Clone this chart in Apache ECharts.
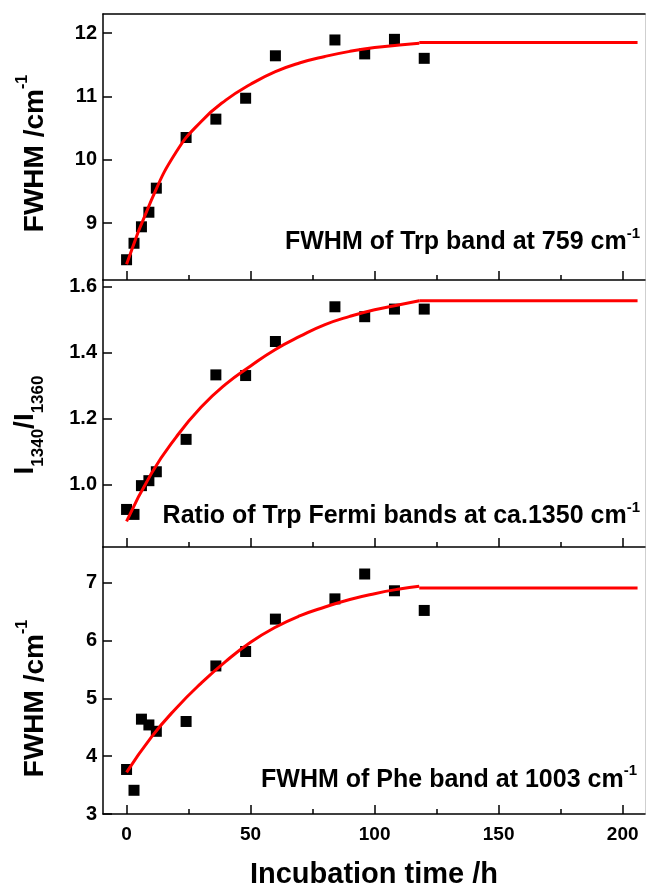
<!DOCTYPE html>
<html>
<head>
<meta charset="utf-8">
<script src="https://cdn.jsdelivr.net/npm/echarts@6/dist/echarts.min.js"></script>
<style>
html,body{margin:0;padding:0;background:#fff;}
#chart{width:647px;height:887px;}
</style>
</head>
<body>
<div id="chart"></div>
<script>
/*
* 数据
*/
var times = [0, 3, 6, 9, 12, 24, 36, 48, 60, 84, 96, 108, 120];
var trpFwhm = [8.42, 8.68, 8.94, 9.17, 9.55, 10.35, 10.64, 10.97, 11.64, 11.89, 11.67, 11.90, 11.60];
var fermiRatio = [0.926, 0.911, 0.998, 1.013, 1.040, 1.138, 1.333, 1.331, 1.434, 1.539, 1.509, 1.532, 1.532];
var pheFwhm = [3.77, 3.41, 4.64, 4.54, 4.43, 4.60, 5.56, 5.81, 6.37, 6.72, 7.15, 6.86, 6.52];

// red fit curves
var fitTimes = [0, 10, 20, 30, 40, 50, 60, 70, 80, 90, 100, 110, 118];
var trpFit = [8.35, 9.36, 10.12, 10.6, 10.94, 11.19, 11.39, 11.53, 11.63, 11.71, 11.77, 11.81, 11.84];
var ratioFit = [0.89, 1.035, 1.145, 1.235, 1.305, 1.36, 1.41, 1.45, 1.485, 1.51, 1.53, 1.545, 1.557];
var pheFit = [3.72, 4.33, 4.83, 5.26, 5.64, 5.97, 6.23, 6.43, 6.58, 6.71, 6.81, 6.89, 6.94];
// flat part of the fits
var plateauTimes = [118, 206];
var trpPlateau = [11.85, 11.85];
var ratioPlateau = [1.557, 1.557];
var phePlateau = [6.91, 6.91];

// ticks
var xTicks = [0, 50, 100, 150, 200];
var xMinorTicks = [25, 75, 125, 175];
var trpTicks = [9, 10, 11, 12];
var ratioTicks = [1.0, 1.2, 1.4, 1.6];
var pheTicks = [3, 4, 5, 6, 7];

var FONT = '"Liberation Sans", Arial, sans-serif';

function pairs(xs, ys){
	var out = [];
	for(var i = 0; i < xs.length; i++){
		out.push([xs[i], ys[i]]);
	}
	return out;
}

var panels = [
	{top: 14, height: 266, min: 8.1, max: 12.3, ticks: trpTicks, dec: 0, pts: trpFwhm, fit: trpFit, flat: trpPlateau},
	{top: 280, height: 267, min: 0.8124, max: 1.62, ticks: ratioTicks, dec: 1, pts: fermiRatio, fit: ratioFit, flat: ratioPlateau},
	{top: 547, height: 267, min: 3, max: 7.617, ticks: pheTicks, dec: 0, pts: pheFwhm, fit: pheFit, flat: phePlateau}
];

var grids = [], xAxes = [], yAxes = [], series = [];
var black = {color: '#000', width: 1.5};

panels.forEach(function(p, i){
	grids.push({left: 103, width: 542, top: p.top, height: p.height});
	// main x axis: frame line + major ticks
	xAxes.push({
		type: 'value', gridIndex: i, min: -9.5, max: 209, position: 'bottom',
		axisLine: {show: true, onZero: false, lineStyle: black},
		axisTick: {show: true, inside: true, length: 9, customValues: xTicks, lineStyle: black},
		axisLabel: {show: i === 2, customValues: xTicks, margin: 11,
			color: '#000', fontSize: 19, fontWeight: 'bold', fontFamily: FONT},
		splitLine: {show: false}
	});
	// minor x ticks
	xAxes.push({
		type: 'value', gridIndex: i, min: -9.5, max: 209, position: 'bottom',
		axisLine: {show: false, onZero: false},
		axisTick: {show: true, inside: true, length: 5, customValues: xMinorTicks, lineStyle: black},
		axisLabel: {show: false},
		splitLine: {show: false}
	});
	if(i === 0){
		xAxes.push({
			type: 'value', gridIndex: i, min: -9.5, max: 209, position: 'top',
			axisLine: {show: true, onZero: false, lineStyle: black},
			axisTick: {show: false}, axisLabel: {show: false}, splitLine: {show: false}
		});
	}
	yAxes.push({
		type: 'value', gridIndex: i, min: p.min, max: p.max, position: 'left',
		axisLine: {show: true, onZero: false, lineStyle: black},
		axisTick: {show: true, inside: true, length: 9, customValues: p.ticks, lineStyle: black},
		axisLabel: {customValues: p.ticks, margin: 6, color: '#000', fontSize: 20,
			fontWeight: 'bold', fontFamily: FONT,
			formatter: (function(d){ return function(v){ return Number(v).toFixed(d); }; })(p.dec)},
		splitLine: {show: false}
	});
	yAxes.push({
		type: 'value', gridIndex: i, min: p.min, max: p.max, position: 'right',
		axisLine: {show: true, onZero: false, lineStyle: {color: '#cfcfcf', width: 1}},
		axisTick: {show: false}, axisLabel: {show: false}, splitLine: {show: false}
	});
});

// axis index of the main x axis of each panel
var xMain = [0, 3, 5];
panels.forEach(function(p, i){
	series.push({
		type: 'scatter', xAxisIndex: xMain[i], yAxisIndex: i * 2,
		data: pairs(times, p.pts),
		symbol: 'rect', symbolSize: 11,
		itemStyle: {color: '#000', opacity: 1}
	});
	series.push({
		type: 'line', xAxisIndex: xMain[i], yAxisIndex: i * 2,
		data: pairs(fitTimes, p.fit),
		showSymbol: false, smooth: true,
		lineStyle: {color: '#ff0000', width: 3}
	});
	series.push({
		type: 'line', xAxisIndex: xMain[i], yAxisIndex: i * 2,
		data: pairs(plateauTimes, p.flat),
		showSymbol: false,
		lineStyle: {color: '#ff0000', width: 3}
	});
});

var mainTxt = {fontSize: 25, fontWeight: 'bold', fontFamily: FONT, fill: '#000', lineHeight: 29, verticalAlign: 'bottom'};
var supTxt = {fontSize: 15, fontWeight: 'bold', fontFamily: FONT, fill: '#000', lineHeight: 15, verticalAlign: 'top'};

function note(text, x, y){
	return {
		type: 'text', x: x, y: y, z: 10,
		style: {text: text, align: 'right', verticalAlign: 'middle', rich: {m: mainTxt, s: supTxt}}
	};
}

var titleRich = {
	m: {fontSize: 28, fontWeight: 'bold', fontFamily: FONT, fill: '#000', lineHeight: 34, verticalAlign: 'bottom'},
	s: {fontSize: 16, fontWeight: 'bold', fontFamily: FONT, fill: '#000', lineHeight: 16, verticalAlign: 'top'}
};
var ratioRich = {
	m: {fontSize: 28, fontWeight: 'bold', fontFamily: FONT, fill: '#000', lineHeight: 28, verticalAlign: 'top'},
	b: {fontSize: 17, fontWeight: 'bold', fontFamily: FONT, fill: '#000', lineHeight: 36, verticalAlign: 'bottom'}
};

function vTitle(text, rich, x, y){
	return {
		type: 'text', x: x, y: y, rotation: Math.PI / 2,
		style: {text: text, align: 'center', verticalAlign: 'middle', rich: rich}
	};
}

var chart = echarts.init(document.getElementById('chart'));
chart.setOption({
	animation: false,
	backgroundColor: '#fff',
	grid: grids,
	xAxis: xAxes,
	yAxis: yAxes,
	series: series,
	graphic: [
		note('{m|FWHM of Trp band at 759 cm}{s|-1}', 640, 240.5),
		note('{m|Ratio of Trp Fermi bands at ca.1350 cm}{s|-1}', 640, 514.5),
		note('{m|FWHM of Phe band at 1003 cm}{s|-1}', 637, 778),
		vTitle('{m|FWHM /cm}{s|-1}', titleRich, 32, 153.5),
		vTitle('{m|I}{b|1340}{m|/I}{b|1360}', ratioRich, 29, 425),
		vTitle('{m|FWHM /cm}{s|-1}', titleRich, 32, 698.5),
		{
			type: 'text', x: 374, y: 875,
			style: {text: 'Incubation time /h', align: 'center', verticalAlign: 'middle',
				fontSize: 29, fontWeight: 'bold', fontFamily: FONT, fill: '#000'}
		}
	]
});

window.onresize = function(){
	chart.resize();
};
</script>
</body>
</html>
